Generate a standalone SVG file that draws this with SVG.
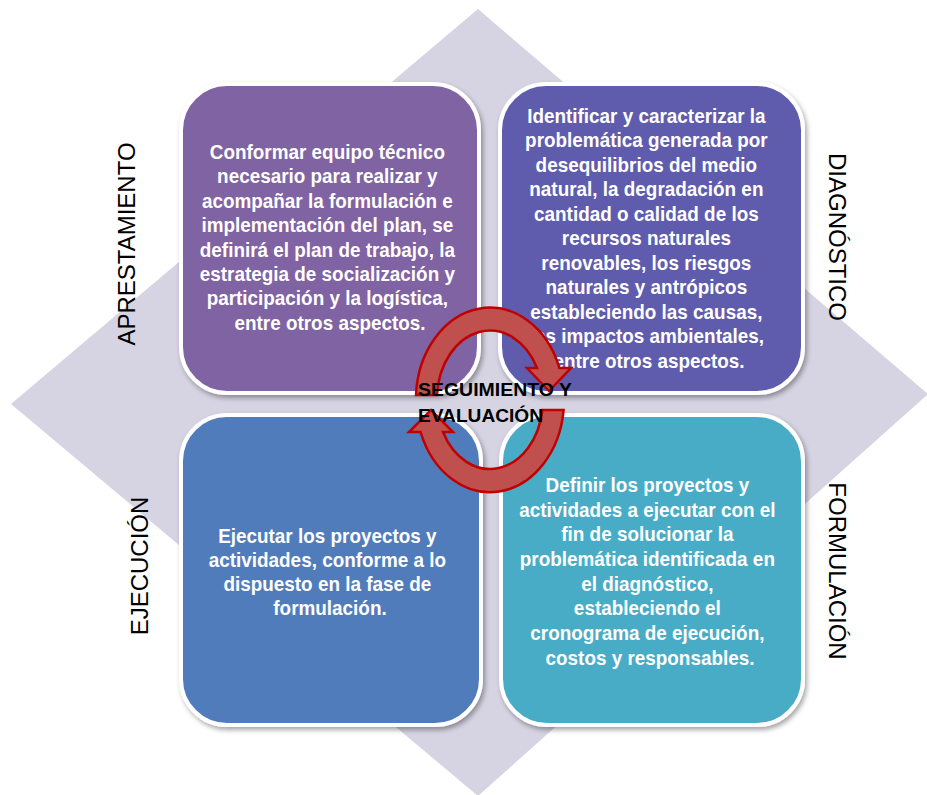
<svg xmlns="http://www.w3.org/2000/svg" width="927" height="795" viewBox="0 0 927 795">
<defs>
<filter id="sh" x="-10%" y="-10%" width="125%" height="125%">
<feDropShadow dx="2" dy="3" stdDeviation="2.5" flood-color="#000" flood-opacity="0.35"/>
</filter>
<style>
.box{stroke:#fff;stroke-width:4;filter:url(#sh)}
.bt{font-family:"Liberation Sans",Arial,sans-serif;font-weight:bold;font-size:21px;fill:#fff;text-anchor:middle}
.side{font-family:"Liberation Sans",Arial,sans-serif;font-size:24px;fill:#000;text-anchor:middle}
.arr{fill:#C0504D;stroke:#C00000;stroke-width:2.5;stroke-linejoin:miter}
.ct{font-family:"Liberation Sans",Arial,sans-serif;font-weight:bold;font-size:19px;fill:#000}
</style>
</defs>
<rect width="927" height="795" fill="#fff"/>
<polygon id="bg" points="478,9 928,394 478,796 11,404" fill="#D6D3E2"/>

<g id="apresto">
<rect class="box" x="181" y="84" width="298" height="309" rx="46" fill="#8064A2"/>
<text class="bt" transform="translate(330,0) scale(0.9,1)">
<tspan x="0" y="159">Conformar equipo técnico</tspan>
<tspan x="0" y="183.4">necesario para realizar y</tspan>
<tspan x="0" y="207.8">acompañar la formulación e</tspan>
<tspan x="0" y="232.2">implementación del plan, se</tspan>
<tspan x="0" y="256.6">definirá el plan de trabajo, la</tspan>
<tspan x="0" y="281">estrategia de socialización y</tspan>
<tspan x="0" y="305.4">participación y la logística,</tspan>
<tspan x="0" y="329.8">entre otros aspectos.</tspan>
</text>
</g>

<g id="diagnostico">
<rect class="box" x="500" y="84" width="303" height="309" rx="46" fill="#5E5BAD"/>
<text class="bt" transform="translate(649,0) scale(0.9,1)">
<tspan x="0" y="123">Identificar y caracterizar la</tspan>
<tspan x="0" y="147.5">problemática generada por</tspan>
<tspan x="0" y="172">desequilibrios del medio</tspan>
<tspan x="0" y="196.5">natural, la degradación en</tspan>
<tspan x="0" y="221">cantidad o calidad de los</tspan>
<tspan x="0" y="245.5">recursos naturales</tspan>
<tspan x="0" y="270">renovables, los riesgos</tspan>
<tspan x="0" y="294.5">naturales y antrópicos</tspan>
<tspan x="0" y="319">estableciendo las causas,</tspan>
<tspan x="0" y="343.5">los impactos ambientales,</tspan>
<tspan x="0" y="368">entre otros aspectos.</tspan>
</text>
</g>

<g id="ejecucion">
<rect class="box" x="181" y="415" width="300" height="310" rx="46" fill="#517BBB"/>
<text class="bt" transform="translate(330,0) scale(0.9,1)">
<tspan x="0" y="543">Ejecutar los proyectos y</tspan>
<tspan x="0" y="567">actividades, conforme a lo</tspan>
<tspan x="0" y="591">dispuesto en la fase de</tspan>
<tspan x="0" y="615">formulación.</tspan>
</text>
</g>

<g id="formulacion">
<rect class="box" x="501" y="415" width="302" height="310" rx="46" fill="#4AACC6"/>
<text class="bt" transform="translate(650,0) scale(0.9,1)">
<tspan x="0" y="492">Definir los proyectos y</tspan>
<tspan x="0" y="516.7">actividades a ejecutar con el</tspan>
<tspan x="0" y="541.4">fin de solucionar la</tspan>
<tspan x="0" y="566.1">problemática identificada en</tspan>
<tspan x="0" y="590.8">el diagnóstico,</tspan>
<tspan x="0" y="615.5">estableciendo el</tspan>
<tspan x="0" y="640.2">cronograma de ejecución,</tspan>
<tspan x="0" y="665">costos y responsables.</tspan>
</text>
</g>

<g id="labels">
<text class="side" transform="translate(135,244) rotate(-90)">APRESTAMIENTO</text>
<text class="side" transform="translate(829,237) rotate(90)">DIAGNÓSTICO</text>
<text class="side" transform="translate(148,566) rotate(-90)">EJECUCIÓN</text>
<text class="side" transform="translate(829,571) rotate(90)">FORMULACIÓN</text>
</g>

<g id="connectors">
<path class="arr" d="M416,395 A74,92 0 0 1 559.4,368 L571,368 L549,391 L527,368 L537,368 A53,69 0 0 0 437,395 Z"/>
<path class="arr" d="M563.6,410 A74,92 0 0 1 420.6,432 L409,432 L431,410 L453,432 L443,432 A53,69 0 0 0 542.4,410 Z"/>
</g>

<g id="seguimiento">
<text class="ct" x="418" y="396" textLength="154" lengthAdjust="spacingAndGlyphs">SEGUIMIENTO Y</text>
<text class="ct" x="418" y="422" textLength="125" lengthAdjust="spacingAndGlyphs">EVALUACIÓN</text>
</g>
</svg>
